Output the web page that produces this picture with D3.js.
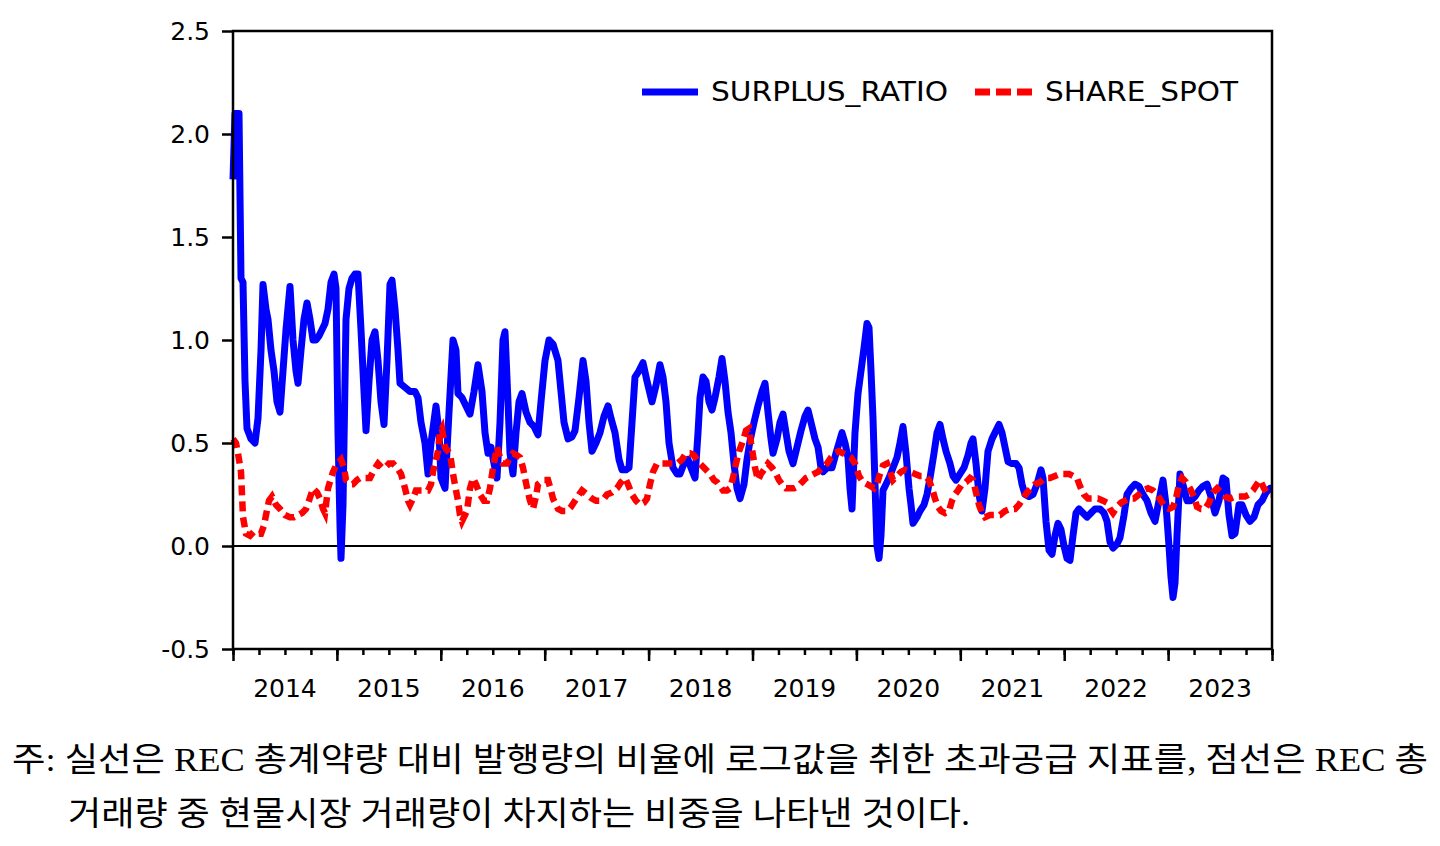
<!DOCTYPE html>
<html>
<head>
<meta charset="utf-8">
<script src="https://cdn.jsdelivr.net/npm/d3@7"></script>
<style>
  body { margin: 0; background: #fff; }
  svg { display: block; }
</style>
</head>
<body>
<svg id="chart" width="1440" height="846"></svg>
<script>
// values; first column = week of the sample (from 2014-01-01)
var yTicks = [-0.5, 0.0, 0.5, 1.0, 1.5, 2.0, 2.5];
var years = [2014, 2015, 2016, 2017, 2018, 2019, 2020, 2021, 2022, 2023];
var seriesNames = ['SURPLUS_RATIO', 'SHARE_SPOT'];
var noteLines = [
  '주: 실선은 REC 총계약량 대비 발행량의 비율에 로그값을 취한 초과공급 지표를, 점선은 REC 총',
  '거래량 중 현물시장 거래량이 차지하는 비중을 나타낸 것이다.'
];

var surplusRatio = [
  [0, 1.78], [1, 2.10], [3, 2.10], [4, 1.30], [5, 1.28], [6, 0.80], [7, 0.57], [9, 0.52], [11, 0.50],
  [12.5, 0.62], [14, 0.95], [15, 1.27], [16.5, 1.15], [17.5, 1.10], [19, 0.95], [20.5, 0.85], [22, 0.70],
  [23.5, 0.65], [25, 0.85], [26.5, 1.05], [28.5, 1.26], [30, 1.00], [31.5, 0.85], [32.5, 0.79], [34, 0.95],
  [35.5, 1.10], [37, 1.18], [38.5, 1.10], [40, 1.00], [41.5, 1.00], [43, 1.02], [44.5, 1.05], [46, 1.08],
  [47.5, 1.15], [49, 1.28], [50.5, 1.32], [51.5, 1.25], [52.5, 0.55], [53.5, 0.10], [54, -0.06], [55, 0.20],
  [56, 0.80], [56.5, 1.10], [58, 1.25], [59.5, 1.30], [61, 1.32], [62.5, 1.32], [64, 1.05], [65.5, 0.75],
  [66.5, 0.56], [68, 0.80], [69.5, 1.00], [71, 1.04], [72.5, 0.90], [74, 0.70], [75.5, 0.59], [77, 0.90],
  [78.5, 1.27], [79.5, 1.29], [81, 1.15], [82.5, 0.95], [83.5, 0.79], [86, 0.77], [88.5, 0.75], [91, 0.75],
  [92.5, 0.72], [94, 0.60], [96, 0.50], [97.5, 0.35], [99, 0.50], [101.5, 0.68], [103, 0.55], [104, 0.33],
  [106, 0.28], [108, 0.65], [110, 1.00], [111.5, 0.95], [112.5, 0.74], [114.5, 0.72], [116.5, 0.68],
  [118.5, 0.64], [120.5, 0.75], [122.5, 0.88], [124.5, 0.75], [126, 0.55], [127.5, 0.45], [129, 0.48],
  [130.5, 0.40], [132, 0.33], [133.5, 0.60], [135, 1.00], [136, 1.04], [137.5, 0.70], [138.5, 0.45],
  [140, 0.35], [141.5, 0.55], [143, 0.70], [144.5, 0.74], [146.5, 0.65], [148.5, 0.60], [150.5, 0.58],
  [152.5, 0.54], [154, 0.70], [156, 0.90], [158, 1.00], [160, 0.98], [162.5, 0.90], [164, 0.75],
  [165.5, 0.60], [167.5, 0.52], [169.5, 0.53], [171, 0.56], [173, 0.72], [175, 0.90], [176.5, 0.80],
  [178, 0.60], [179.5, 0.46], [181.5, 0.50], [183.5, 0.55], [185.5, 0.63], [187.5, 0.68], [189, 0.62],
  [191, 0.55], [193, 0.42], [194.5, 0.37], [196.5, 0.37], [198, 0.38], [199.5, 0.60], [201, 0.82],
  [203, 0.85], [205, 0.89], [207, 0.80], [209.5, 0.70], [211.5, 0.78], [213.5, 0.88], [215, 0.82],
  [216.5, 0.70], [218, 0.50], [220, 0.38], [222, 0.35], [223.5, 0.35], [225.5, 0.40], [227.5, 0.42],
  [229, 0.38], [231, 0.33], [232.5, 0.55], [233.5, 0.72], [235, 0.82], [236.5, 0.80], [238, 0.70],
  [239.5, 0.66], [241, 0.72], [243, 0.82], [244.5, 0.91], [246, 0.80], [247.5, 0.65], [249, 0.55],
  [250.5, 0.40], [252, 0.28], [253.5, 0.23], [255.5, 0.30], [257, 0.42], [258.5, 0.51], [260.5, 0.60],
  [262.5, 0.68], [264.5, 0.75], [266, 0.79], [267.5, 0.65], [269, 0.52], [270, 0.45], [272, 0.52],
  [273.5, 0.60], [275, 0.64], [276.5, 0.55], [278, 0.46], [280, 0.40], [282, 0.48], [284, 0.56],
  [286, 0.63], [287.5, 0.66], [289.5, 0.58], [291, 0.52], [292.5, 0.48], [294, 0.38], [295, 0.36],
  [297, 0.38], [299.5, 0.38], [301.5, 0.45], [303, 0.50], [304.5, 0.55], [306, 0.50], [307.5, 0.43],
  [308.5, 0.28], [309.5, 0.18], [311, 0.55], [312.5, 0.74], [314, 0.85], [315.5, 0.96], [317, 1.08],
  [318, 1.06], [319, 0.85], [320, 0.62], [321, 0.30], [322, 0.00], [323, -0.06], [324, 0.05], [325, 0.27],
  [326.5, 0.30], [328, 0.33], [330, 0.38], [332, 0.43], [333.5, 0.50], [335, 0.58], [336.5, 0.45],
  [338, 0.28], [339, 0.20], [340, 0.11], [342, 0.14], [343.5, 0.17], [345.5, 0.20], [347, 0.25],
  [348.5, 0.33], [350.5, 0.45], [352, 0.55], [353.5, 0.59], [355, 0.52], [356.5, 0.46], [358.5, 0.40],
  [360, 0.34], [361.5, 0.32], [363.5, 0.35], [365.5, 0.38], [367.5, 0.44], [369, 0.50], [370, 0.52],
  [371.5, 0.40], [373, 0.25], [374.5, 0.17], [376, 0.28], [377.5, 0.46], [379.5, 0.52], [381.5, 0.56],
  [383, 0.59], [384.5, 0.55], [386, 0.48], [387.5, 0.41], [389.5, 0.40], [391.5, 0.40], [393, 0.38],
  [394.5, 0.30], [396, 0.25], [398, 0.24], [400, 0.25], [402, 0.30], [404, 0.37], [405, 0.33],
  [406.5, 0.12], [408, -0.02], [409.5, -0.04], [411, 0.05], [412.5, 0.11], [414, 0.08], [415.5, 0.00],
  [417, -0.06], [418.5, -0.07], [420, 0.05], [421.5, 0.16], [423, 0.18], [425, 0.16], [427, 0.14],
  [429, 0.16], [431, 0.18], [433.5, 0.18], [435.5, 0.16], [437, 0.12], [438.5, 0.02], [440, -0.01],
  [442, 0.01], [443.5, 0.04], [445.5, 0.15], [447, 0.25], [449, 0.28], [451, 0.30], [453, 0.29],
  [455, 0.25], [457, 0.22], [459, 0.16], [461, 0.12], [463, 0.22], [465, 0.32], [466.5, 0.20],
  [468, 0.00], [469, -0.15], [470, -0.25], [471, -0.18], [472, 0.05], [473.5, 0.35], [475.5, 0.28],
  [477, 0.22], [479, 0.22], [481, 0.24], [483, 0.27], [485, 0.29], [487, 0.30], [489, 0.24], [491, 0.16],
  [493, 0.22], [495, 0.33], [496.5, 0.32], [498, 0.15], [499.5, 0.05], [501, 0.06], [503, 0.20],
  [504.5, 0.20], [506.5, 0.15], [508.5, 0.12], [510.5, 0.14], [512.5, 0.20], [514.5, 0.22],
  [516.5, 0.26], [518.5, 0.28], [519.5, 0.28]
];

var shareSpot = [
  [0, 0.52], [1.5, 0.50], [2.5, 0.45], [4, 0.36], [4.5, 0.25], [5, 0.14], [6.5, 0.06], [8.5, 0.05],
  [10.5, 0.07], [12.5, 0.06], [14, 0.06], [15.5, 0.10], [16.5, 0.15], [18, 0.22], [19.5, 0.24],
  [21.5, 0.20], [23.5, 0.18], [26, 0.15], [28.5, 0.14], [30.5, 0.14], [32.5, 0.15], [34.5, 0.16],
  [36.5, 0.18], [38, 0.22], [40, 0.28], [42, 0.26], [43.5, 0.23], [45, 0.18], [46, 0.16], [47.5, 0.28],
  [50, 0.36], [52, 0.40], [54, 0.42], [55.5, 0.38], [56.5, 0.32], [58.5, 0.30], [60, 0.30], [62, 0.32],
  [63.5, 0.33], [66, 0.33], [68.5, 0.33], [70.5, 0.37], [72.5, 0.40], [74.5, 0.38], [76, 0.38],
  [78, 0.40], [80, 0.40], [82, 0.38], [84, 0.35], [86, 0.28], [87.5, 0.22], [88.5, 0.20], [90, 0.23],
  [91.5, 0.27], [94.5, 0.27], [97.5, 0.27], [99, 0.30], [100, 0.36], [101.5, 0.42], [102.5, 0.46],
  [103.5, 0.55], [104.5, 0.57], [106, 0.48], [107.5, 0.46], [108.5, 0.45], [110, 0.35], [111.5, 0.27],
  [112.5, 0.22], [113.5, 0.15], [114.5, 0.12], [115.5, 0.14], [117, 0.17], [118.5, 0.28], [120, 0.33],
  [121.5, 0.30], [123.5, 0.25], [125.5, 0.22], [127, 0.22], [128.5, 0.28], [130, 0.38], [132, 0.48],
  [133.5, 0.43], [135, 0.40], [137, 0.40], [138.5, 0.43], [140, 0.45], [142, 0.44], [143.5, 0.43],
  [145, 0.38], [146, 0.33], [147.5, 0.26], [148.5, 0.22], [150, 0.18], [151.5, 0.24], [152.5, 0.30],
  [155, 0.32], [157.5, 0.32], [159, 0.27], [160, 0.23], [161.5, 0.20], [162.5, 0.18], [164.5, 0.17],
  [167, 0.17], [169, 0.19], [171, 0.22], [173, 0.25], [174.5, 0.27], [177, 0.25], [179.5, 0.23],
  [181.5, 0.22], [183.5, 0.22], [185.5, 0.23], [187, 0.25], [189.5, 0.26], [192, 0.28], [194, 0.31],
  [196, 0.33], [197.5, 0.30], [199.5, 0.25], [201.5, 0.22], [203.5, 0.20], [205.5, 0.21], [207, 0.23],
  [208.5, 0.30], [210, 0.36], [212, 0.40], [214.5, 0.40], [217, 0.40], [219.5, 0.40], [222, 0.40],
  [224.5, 0.42], [226.5, 0.45], [228.5, 0.45], [230.5, 0.44], [232.5, 0.41], [234.5, 0.39],
  [236.5, 0.37], [238.5, 0.35], [240.5, 0.32], [242, 0.31], [243.5, 0.29], [245, 0.27], [247, 0.27],
  [248.5, 0.28], [250, 0.33], [251.5, 0.40], [253, 0.46], [255, 0.51], [256.5, 0.56], [258, 0.57],
  [259, 0.50], [260, 0.44], [261, 0.38], [262.5, 0.32], [264, 0.35], [265.5, 0.37], [267.5, 0.40],
  [269.5, 0.38], [271, 0.36], [273, 0.32], [274.5, 0.30], [276.5, 0.28], [278.5, 0.28], [280.5, 0.28],
  [282.5, 0.29], [284.5, 0.31], [286.5, 0.33], [288.5, 0.34], [290.5, 0.35], [292.5, 0.36],
  [294.5, 0.38], [297, 0.40], [299, 0.43], [301, 0.45], [303, 0.46], [305, 0.45], [307, 0.44],
  [309, 0.43], [311, 0.40], [313, 0.34], [315, 0.31], [317, 0.30], [319, 0.29], [320.5, 0.28],
  [322, 0.30], [323.5, 0.35], [325, 0.39], [327, 0.40], [328.5, 0.36], [330, 0.32], [332, 0.34],
  [334, 0.36], [336, 0.37], [338.5, 0.36], [341, 0.35], [343.5, 0.34], [346, 0.34], [348, 0.32],
  [349.5, 0.28], [351, 0.23], [352.5, 0.19], [354, 0.17], [356, 0.16], [358, 0.17], [359.5, 0.22],
  [361, 0.25], [362.5, 0.27], [364.5, 0.30], [366.5, 0.31], [368.5, 0.33], [370, 0.32], [371.5, 0.26],
  [373, 0.20], [374.5, 0.16], [376, 0.14], [378.5, 0.15], [381, 0.15], [383.5, 0.15], [386, 0.17],
  [388.5, 0.18], [391, 0.18], [393, 0.20], [395, 0.23], [397, 0.26], [399, 0.28], [401, 0.30],
  [403.5, 0.31], [406, 0.33], [408.5, 0.33], [411, 0.34], [413.5, 0.35], [416, 0.35], [418, 0.35],
  [420, 0.34], [422, 0.33], [423.5, 0.29], [425.5, 0.25], [427.5, 0.23], [430, 0.23], [432.5, 0.23],
  [435, 0.22], [437, 0.21], [438.5, 0.18], [440, 0.16], [442, 0.19], [444, 0.21], [446, 0.22],
  [448, 0.23], [450.5, 0.23], [453, 0.25], [455, 0.27], [457.5, 0.28], [460, 0.27], [462, 0.25],
  [464, 0.22], [466, 0.19], [468, 0.18], [470, 0.19], [471.5, 0.23], [473, 0.30], [474.5, 0.33],
  [476.5, 0.31], [478.5, 0.28], [480.5, 0.24], [482, 0.19], [484, 0.18], [486, 0.18], [488, 0.21],
  [490, 0.26], [492, 0.28], [494, 0.26], [496, 0.24], [498.5, 0.23], [501, 0.24], [503.5, 0.24],
  [506, 0.24], [508, 0.25], [510, 0.27], [512, 0.30], [513.5, 0.32], [515.5, 0.28], [517.5, 0.25],
  [519.5, 0.25]
];

var weeksPerYear = 51.95;
function toYear(w) { return 2014 + w / weeksPerYear; }

var svg = d3.select('#chart');
var fontAxis = '"DejaVu Sans", sans-serif';

var x = d3.scaleLinear().domain([2014, 2024]).range([233, 1272]);
var y = d3.scaleLinear().domain([-0.5, 2.5]).range([649, 31]);

// zero line
svg.append('line')
  .attr('x1', x(2014)).attr('x2', x(2024))
  .attr('y1', y(0)).attr('y2', y(0))
  .attr('stroke', '#000').attr('stroke-width', 2);

var line = d3.line()
  .x(function(d) { return x(toYear(d[0])); })
  .y(function(d) { return y(d[1]); });

svg.append('path')
  .datum(surplusRatio)
  .attr('d', line)
  .attr('fill', 'none')
  .attr('stroke', '#0000ff')
  .attr('stroke-width', 7)
  .attr('stroke-linejoin', 'round');

svg.append('path')
  .datum(shareSpot)
  .attr('d', line)
  .attr('fill', 'none')
  .attr('stroke', '#ff0000')
  .attr('stroke-width', 6.5)
  .attr('stroke-dasharray', '10,6');

// frame
svg.append('rect')
  .attr('x', x(2014)).attr('y', y(2.5))
  .attr('width', x(2024) - x(2014)).attr('height', y(-0.5) - y(2.5))
  .attr('fill', 'none').attr('stroke', '#000').attr('stroke-width', 2.5);

// y axis
var yAxis = svg.append('g')
  .attr('transform', 'translate(' + x(2014) + ',0)')
  .call(d3.axisLeft(y)
    .tickValues(yTicks)
    .tickSize(11)
    .tickPadding(12)
    .tickFormat(function(d) { return d.toFixed(1); }));
yAxis.select('.domain').remove();
yAxis.selectAll('line').attr('stroke-width', 2.5);
yAxis.selectAll('text')
  .attr('font-family', fontAxis)
  .attr('font-size', 25)
  .attr('fill', '#000');

// x axis: quarters (minor) and years (major)
var minorAxis = svg.append('g')
  .attr('transform', 'translate(0,' + y(-0.5) + ')')
  .call(d3.axisBottom(x)
    .tickValues(d3.range(0, 41).map(function(i) { return 2014 + i / 4; }))
    .tickSize(6)
    .tickFormat(''));
minorAxis.select('.domain').remove();
minorAxis.selectAll('line').attr('stroke-width', 2.5);

var majorAxis = svg.append('g')
  .attr('transform', 'translate(0,' + y(-0.5) + ')')
  .call(d3.axisBottom(x)
    .tickValues(years.concat([2024]))
    .tickSize(12)
    .tickFormat(''));
majorAxis.select('.domain').remove();
majorAxis.selectAll('line').attr('stroke-width', 2.5);

svg.append('g').selectAll('text')
  .data(years)
  .enter().append('text')
  .attr('x', function(d) { return x(d + 0.5); })
  .attr('y', 697)
  .attr('text-anchor', 'middle')
  .attr('font-family', fontAxis)
  .attr('font-size', 25)
  .text(function(d) { return d; });

// legend
var legend = svg.append('g');
legend.append('line')
  .attr('x1', 642).attr('x2', 698).attr('y1', 92).attr('y2', 92)
  .attr('stroke', '#0000ff').attr('stroke-width', 7);
legend.append('text')
  .attr('x', 711).attr('y', 101)
  .attr('font-family', fontAxis).attr('font-size', 26)
  .attr('textLength', 237).attr('lengthAdjust', 'spacingAndGlyphs')
  .text(seriesNames[0]);
legend.append('line')
  .attr('x1', 975).attr('x2', 1032).attr('y1', 92).attr('y2', 92)
  .attr('stroke', '#ff0000').attr('stroke-width', 7)
  .attr('stroke-dasharray', '15,6');
legend.append('text')
  .attr('x', 1045).attr('y', 101)
  .attr('font-family', fontAxis).attr('font-size', 26)
  .attr('textLength', 193).attr('lengthAdjust', 'spacingAndGlyphs')
  .text(seriesNames[1]);

// note under the chart
var noteFont = '"Liberation Serif", "Noto Sans CJK KR", serif';
svg.append('text')
  .attr('x', 12).attr('y', 771)
  .attr('font-family', noteFont).attr('font-size', 33)
  .attr('textLength', 1416).attr('lengthAdjust', 'spacingAndGlyphs')
  .text(noteLines[0]);
svg.append('text')
  .attr('x', 68).attr('y', 825)
  .attr('font-family', noteFont).attr('font-size', 33)
  .attr('textLength', 902).attr('lengthAdjust', 'spacingAndGlyphs')
  .text(noteLines[1]);
</script>
</body>
</html>
